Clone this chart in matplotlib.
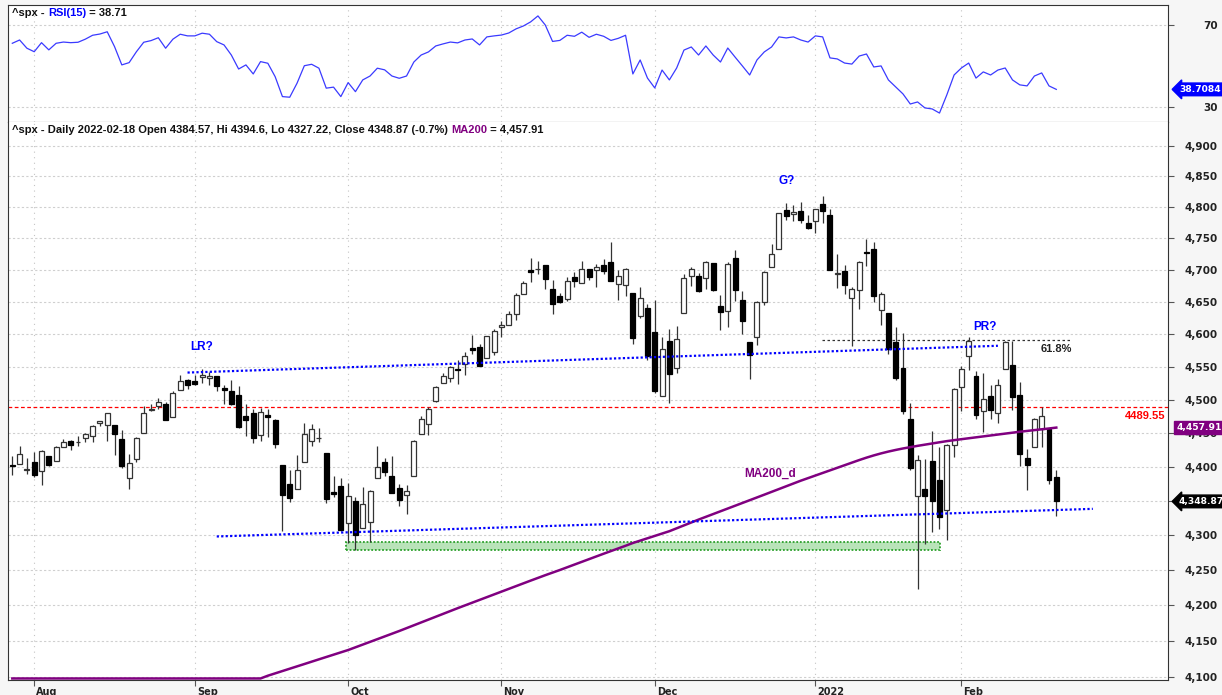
import matplotlib
matplotlib.use("Agg")
import matplotlib.pyplot as plt
import numpy as np
import pandas as pd
from matplotlib.patches import Rectangle
from matplotlib.ticker import FixedLocator, NullLocator, FuncFormatter
from matplotlib.transforms import ScaledTranslation, blended_transform_factory

# ---- data -----------------------------------------------------------------
dates = pd.bdate_range("2021-07-28", "2022-02-18")
holidays = pd.to_datetime(["2021-09-06", "2021-11-25", "2021-12-24", "2022-01-17"])
dates = dates[~dates.isin(holidays)]

opens = [4402.95, 4403.59, 4395.12, 4406.86, 4392.74, 4415.95, 4408.86, 4429.07, 4437.77, 4435.79,
         4442.18, 4446.08, 4464.84, 4461.65, 4462.12, 4440.94, 4382.44, 4410.56, 4450.29, 4484.40,
         4490.45, 4493.75, 4474.10, 4513.76, 4529.75, 4528.80, 4534.48, 4532.42, 4535.38, 4518.09,
         4513.02, 4506.92, 4474.81, 4479.33, 4447.49, 4477.09, 4469.74, 4402.95, 4374.45, 4367.43,
         4406.75, 4438.04, 4442.12, 4419.54, 4362.41, 4370.67, 4317.16, 4348.84, 4309.87, 4319.57,
         4383.73, 4406.51, 4385.44, 4368.31, 4358.01, 4386.75, 4447.69, 4463.72, 4497.34, 4524.42,
         4532.24, 4546.12, 4553.69, 4578.69, 4580.22, 4562.84, 4572.87, 4610.62, 4613.34, 4630.65,
         4662.93, 4699.26, 4701.48, 4707.25, 4670.26, 4659.39, 4655.24, 4689.30, 4679.42, 4701.50,
         4700.72, 4708.44, 4712.00, 4678.48, 4675.78, 4664.63, 4628.75, 4640.25, 4602.82, 4504.73,
         4589.49, 4548.37, 4631.97, 4690.86, 4691.00, 4687.64, 4710.30, 4642.99, 4636.46, 4719.13,
         4652.50, 4587.90, 4594.96, 4650.36, 4703.96, 4733.99, 4795.49, 4788.64, 4794.23, 4775.21,
         4778.14, 4804.51, 4787.99, 4693.39, 4697.66, 4655.34, 4669.14, 4728.59, 4733.56, 4637.99,
         4632.24, 4588.03, 4547.35, 4471.38, 4356.32, 4366.64, 4408.43, 4380.58, 4336.19, 4431.79,
         4519.57, 4566.39, 4535.41, 4482.79, 4505.75, 4480.02, 4547.00, 4553.24, 4506.27, 4412.61,
         4429.28, 4455.75, 4456.06, 4384.57]
highs = [4415.47, 4429.97, 4412.25, 4422.18, 4423.79, 4416.17, 4429.76, 4440.82, 4439.39, 4445.21,
         4449.44, 4461.77, 4468.37, 4480.26, 4462.12, 4454.32, 4418.61, 4444.35, 4489.88, 4492.81,
         4501.71, 4495.90, 4513.33, 4537.36, 4531.39, 4537.11, 4545.85, 4541.45, 4535.38, 4521.79,
         4529.90, 4520.47, 4492.99, 4485.68, 4486.87, 4485.87, 4471.52, 4402.95, 4394.87, 4416.75,
         4465.40, 4463.12, 4457.30, 4419.54, 4385.57, 4382.55, 4375.19, 4355.51, 4369.23, 4365.57,
         4429.97, 4412.02, 4415.88, 4374.89, 4372.87, 4439.73, 4475.82, 4488.75, 4520.40, 4540.87,
         4551.44, 4559.67, 4572.62, 4598.53, 4584.57, 4597.55, 4608.08, 4620.34, 4635.15, 4663.46,
         4683.00, 4718.50, 4714.92, 4708.53, 4684.85, 4664.55, 4688.47, 4697.42, 4714.95, 4701.50,
         4708.80, 4717.75, 4743.83, 4699.39, 4702.87, 4664.63, 4672.95, 4646.02, 4652.94, 4595.46,
         4608.03, 4612.60, 4694.04, 4705.06, 4695.26, 4713.57, 4710.30, 4660.47, 4712.60, 4731.99,
         4666.70, 4587.90, 4651.14, 4697.67, 4740.74, 4791.49, 4807.02, 4804.06, 4808.93, 4786.83,
         4796.64, 4818.62, 4797.70, 4725.01, 4707.95, 4673.02, 4714.13, 4748.83, 4744.13, 4665.13,
         4632.24, 4611.55, 4602.11, 4494.52, 4417.35, 4411.01, 4453.23, 4428.74, 4432.72, 4516.89,
         4550.49, 4595.31, 4542.88, 4539.66, 4521.86, 4531.32, 4590.03, 4588.92, 4526.33, 4426.22,
         4472.77, 4489.55, 4456.06, 4394.60]
lows = [4387.01, 4403.59, 4389.65, 4384.81, 4373.00, 4400.23, 4408.86, 4429.07, 4424.74, 4430.03,
        4436.42, 4435.96, 4460.82, 4437.66, 4417.83, 4397.59, 4367.73, 4406.80, 4450.29, 4482.28,
        4485.66, 4468.99, 4474.10, 4513.76, 4515.80, 4522.02, 4524.66, 4521.94, 4513.00, 4493.95,
        4492.07, 4457.66, 4445.70, 4435.46, 4438.37, 4443.80, 4427.76, 4305.91, 4347.96, 4367.43,
        4406.75, 4430.27, 4436.19, 4346.33, 4355.08, 4306.24, 4288.52, 4278.94, 4309.87, 4290.49,
        4383.73, 4386.22, 4360.59, 4342.09, 4329.92, 4386.75, 4447.69, 4447.47, 4496.41, 4524.40,
        4526.89, 4524.00, 4537.36, 4569.17, 4551.66, 4562.84, 4567.59, 4595.06, 4613.34, 4621.19,
        4662.59, 4681.32, 4694.39, 4670.87, 4630.86, 4648.31, 4650.77, 4672.86, 4679.42, 4684.41,
        4672.78, 4694.22, 4682.17, 4652.66, 4659.89, 4585.43, 4625.26, 4560.00, 4510.27, 4504.73,
        4495.12, 4540.51, 4631.97, 4674.52, 4665.98, 4670.24, 4667.60, 4606.52, 4611.22, 4651.89,
        4600.22, 4531.10, 4583.16, 4645.53, 4703.96, 4733.99, 4780.04, 4778.08, 4775.33, 4765.75,
        4758.17, 4774.27, 4699.44, 4671.26, 4662.74, 4582.24, 4638.27, 4706.71, 4650.29, 4614.75,
        4568.70, 4530.20, 4477.95, 4395.34, 4222.62, 4287.11, 4304.80, 4309.50, 4292.46, 4414.02,
        4483.53, 4544.32, 4470.39, 4451.50, 4471.47, 4465.40, 4547.00, 4484.31, 4401.41, 4364.84,
        4429.28, 4429.68, 4373.81, 4327.22]
closes = [4400.64, 4419.15, 4395.26, 4387.16, 4423.15, 4402.66, 4429.10, 4436.52, 4432.35, 4436.75,
          4447.70, 4460.83, 4468.00, 4479.71, 4448.08, 4400.27, 4405.80, 4441.67, 4479.53, 4486.23,
          4496.19, 4470.00, 4509.37, 4528.79, 4522.68, 4524.09, 4536.95, 4535.43, 4520.03, 4514.07,
          4493.28, 4458.58, 4468.73, 4443.05, 4480.70, 4473.75, 4432.99, 4357.73, 4354.19, 4395.64,
          4448.98, 4455.48, 4443.11, 4352.63, 4359.46, 4307.54, 4357.04, 4300.46, 4345.72, 4363.55,
          4399.76, 4391.34, 4361.19, 4350.65, 4363.80, 4438.26, 4471.37, 4486.46, 4519.63, 4536.19,
          4549.78, 4544.90, 4566.48, 4574.79, 4551.68, 4596.42, 4605.38, 4613.67, 4630.65, 4660.57,
          4680.06, 4697.53, 4701.70, 4685.25, 4646.71, 4649.27, 4682.85, 4682.80, 4700.90, 4688.67,
          4704.54, 4697.96, 4682.94, 4690.70, 4701.46, 4594.62, 4655.27, 4567.00, 4513.04, 4577.10,
          4538.43, 4591.67, 4686.75, 4701.21, 4667.45, 4712.02, 4668.97, 4634.09, 4709.85, 4668.67,
          4620.64, 4568.02, 4649.23, 4696.56, 4725.79, 4791.19, 4786.35, 4793.06, 4778.73, 4766.18,
          4796.56, 4793.54, 4700.58, 4696.05, 4677.03, 4670.29, 4713.07, 4726.35, 4659.03, 4662.85,
          4577.11, 4532.76, 4482.73, 4397.94, 4410.13, 4356.45, 4349.93, 4326.51, 4431.85, 4515.55,
          4546.54, 4589.38, 4477.44, 4500.53, 4483.87, 4521.54, 4587.18, 4504.08, 4418.64, 4401.67,
          4471.07, 4475.01, 4380.26, 4348.87]

rsi15 = [61.1, 62.7, 58.7, 57.0, 61.4, 57.9, 61.1, 61.7, 61.4, 61.6,
         63.1, 65.0, 65.6, 66.7, 59.5, 50.6, 51.7, 57.0, 61.6, 62.4,
         63.8, 58.7, 63.1, 65.5, 64.7, 64.7, 66.0, 65.5, 61.9, 60.3,
         55.4, 48.6, 50.6, 46.2, 52.2, 51.4, 44.9, 35.2, 34.9, 41.7,
         50.2, 50.9, 49.0, 39.3, 39.8, 35.2, 42.0, 37.6, 43.3, 45.2,
         49.0, 48.2, 45.2, 44.1, 45.2, 52.0, 55.4, 56.9, 59.8, 60.8,
         61.7, 61.3, 62.7, 63.2, 60.3, 64.2, 64.7, 65.1, 66.1, 68.1,
         69.5, 71.5, 74.4, 70.0, 62.0, 62.5, 65.0, 64.5, 66.5, 64.0,
         65.5, 64.5, 62.5, 63.5, 65.0, 46.2, 53.0, 44.2, 39.4, 48.1,
         43.3, 49.1, 57.8, 59.3, 55.4, 59.8, 55.4, 52.0, 58.8, 54.4,
         50.1, 45.7, 53.0, 56.9, 59.3, 64.2, 63.7, 64.2, 62.7, 61.7,
         64.7, 64.2, 54.0, 53.5, 51.5, 51.0, 54.9, 55.9, 49.6, 50.1,
         43.3, 39.9, 36.5, 31.6, 32.6, 29.7, 29.2, 27.2, 36.0, 45.7,
         49.1, 51.5, 44.2, 47.2, 45.7, 48.1, 49.1, 43.3, 40.9, 40.4,
         45.2, 46.7, 40.4, 38.71]

ma200 = [4098.0] * 35 + [
    4101.8, 4105.0, 4108.3, 4111.5, 4114.7, 4117.9, 4121.2, 4124.4, 4127.6, 4130.9,
    4134.1, 4137.3, 4141.1, 4144.9, 4148.6, 4152.4, 4156.2, 4160.0, 4163.8, 4167.8,
    4171.8, 4175.8, 4179.8, 4183.8, 4187.8, 4191.9, 4195.8, 4199.7, 4203.6, 4207.5,
    4211.4, 4215.3, 4219.2, 4223.1, 4227.0, 4230.9, 4234.8, 4238.7, 4242.5, 4246.2,
    4249.9, 4253.8, 4257.7, 4261.6, 4265.5, 4269.4, 4273.2, 4277.0, 4280.8, 4284.6,
    4288.6, 4292.0, 4295.4, 4298.8, 4302.2, 4305.6, 4309.8, 4314.0, 4318.2, 4322.4,
    4326.4, 4330.4, 4334.4, 4338.4, 4342.4, 4346.5, 4350.5, 4354.6, 4358.7, 4362.8,
    4366.9, 4371.0, 4375.1, 4379.2, 4383.0, 4386.8, 4390.6, 4394.4, 4398.2, 4402.0,
    4405.8, 4409.6, 4413.2, 4416.5, 4419.5, 4422.2, 4424.6, 4426.8, 4428.8, 4430.7,
    4432.5, 4434.3, 4436.0, 4437.7, 4439.2, 4440.6, 4442.0, 4443.4, 4444.8, 4446.2,
    4447.6, 4449.0, 4450.4, 4451.7, 4452.9, 4454.1, 4455.3, 4456.6, 4457.91]

# annotations (bar number, price)
lr_upper = [(24, 4541), (135, 4582)]
lr_lower = [(28, 4298), (148, 4338)]
support_zone = (45.7, 127.1, 4278.5, 4290.4)   # x0, x1, lo, hi
fib_618 = (110.9, 145.1, 4591)
resistance = 4489.55
notes = [("LR?", 26, 4580, "blue"), ("G?", 106, 4842, "blue"),
         ("PR?", 133.2, 4611, "blue"), ("MA200_d", 103.8, 4390, "purple")]

# ---- figure -----------------------------------------------------------------
W, H = 1222, 695
fig = plt.figure(figsize=(W / 100, H / 100), dpi=100, facecolor="#f6f6f6")


def px_box(x0, y0, x1, y1):
    return [x0 / W, 1 - y1 / H, (x1 - x0) / W, (y1 - y0) / H]


ax_rsi = fig.add_axes(px_box(8, 5, 1168, 122))
ax = fig.add_axes(px_box(8, 122, 1168, 680), sharex=ax_rsi)

n = len(closes)
x = np.arange(n)
o, h, l, c = map(np.array, (opens, highs, lows, closes))

# month ticks: first session of each month
month_pos = [i for i in range(1, n) if dates[i].month != dates[i - 1].month]
month_lab = [str(dates[i].year) if dates[i].month == 1 else dates[i].strftime("%b")
             for i in month_pos]

edge = "#333333"
sans = ["Liberation Sans", "DejaVu Sans"]
font = dict(fontweight="bold", fontsize=8, family=sans)
tagfont = dict(fontweight="bold", fontsize=6.6, family="DejaVu Sans")

# ---- price panel ---------------------------------------------------------------
ax.set_facecolor("white")
ax.set_yscale("log")
ax.set_ylim(4095.9, 4939.3)
ax.set_xlim(-0.59, 158.3)

ax.vlines(x, l, h, color=edge, lw=0.9, zorder=3)
up = c >= o
body_lo = np.minimum(o, c)
body_h = np.maximum(np.abs(c - o), 0.6)
ax.bar(x[up], body_h[up], bottom=body_lo[up], width=0.68, color="white",
       edgecolor=edge, lw=0.9, zorder=4)
ax.bar(x[~up], body_h[~up], bottom=body_lo[~up], width=0.68, color="black",
       edgecolor="black", lw=0.9, zorder=4)

ax.plot(x, ma200, color="#800080", lw=1.8, zorder=5)

for (x0, p0), (x1, p1) in [lr_upper, lr_lower]:
    ax.plot([x0, x1], [p0, p1], color="#0000ff", lw=1.6, ls=(0, (1, 1)), zorder=5)

zx0, zx1, zlo, zhi = support_zone
ax.add_patch(Rectangle((zx0, zlo), zx1 - zx0, zhi - zlo, facecolor="#b9e3b9",
                       edgecolor="#2ca02c", lw=1.3, ls=(0, (1, 1)), zorder=2))

ax.axhline(resistance, color="red", lw=0.9, ls=(0, (3, 2)), zorder=2)
ax.annotate(f"{resistance:.2f}", xy=(1, resistance), xycoords=("axes fraction", "data"),
            xytext=(-2, -3), textcoords="offset points", ha="right", va="top",
            color="red", **font)

fx0, fx1, fp = fib_618
ax.hlines(fp, fx0, fx1, color="#333333", lw=0.9, ls=(0, (2, 2)), zorder=2)
ax.annotate("61.8%", xy=(fx1, fp), xytext=(0, -3), textcoords="offset points",
            ha="right", va="top", color="#222222", **font)

for txt, nx, ny, col in notes:
    ax.text(nx, ny, txt, color=col, ha="center", va="center", fontweight="bold",
            fontsize=8.5, family=sans)

# axis styling
ax.yaxis.tick_right()
ticks = list(range(4100, 4901, 50))
ax.yaxis.set_major_locator(FixedLocator(ticks))
ax.yaxis.set_minor_locator(NullLocator())
ax.yaxis.set_major_formatter(FuncFormatter(lambda v, _: f"{v:,.0f}"))
ax.tick_params(axis="y", length=4, color="#555555", pad=31.7, labelsize=7.5,
               labelcolor="#222222")
for lbl in ax.get_yticklabels():
    lbl.set_horizontalalignment("right")
    lbl.set_fontweight("bold")

ax.set_xticks(month_pos)
ax.set_xticklabels(month_lab)
ax.tick_params(axis="x", length=4, color="#555555", pad=1, labelsize=7,
               labelcolor="#222222")
shift = ScaledTranslation(1.5 / 72, 0, fig.dpi_scale_trans)
for lbl in ax.get_xticklabels():
    lbl.set_horizontalalignment("left")
    lbl.set_fontweight("bold")
    lbl.set_transform(lbl.get_transform() + shift)

ax.grid(axis="y", color="#cfcfcf", lw=0.8, ls=(0, (2, 2)))
ax.grid(axis="x", color="#c4c4c4", lw=0.8, ls=(0, (1, 4)))
ax.set_axisbelow(True)
for s in ax.spines.values():
    s.set_color(edge)
ax.spines["top"].set_visible(False)

# value tags on right axis
ytr = blended_transform_factory(ax.transAxes, ax.transData)
ax.text(1.0075, ma200[-1], f"{ma200[-1]:,.2f}", transform=ytr, color="white",
        ha="left", va="center", clip_on=False, zorder=10,
        bbox=dict(boxstyle="square,pad=0.25", fc="#800080", ec="#800080"), **tagfont)
ax.text(1.0095, closes[-1], f"{closes[-1]:,.2f}", transform=ytr, color="white",
        ha="left", va="center", clip_on=False, zorder=10,
        bbox=dict(boxstyle="larrow,pad=0.2", fc="black", ec="black"), **tagfont)

# header
hdr = ax.text(0.0035, 0.9857,
              f"^spx - Daily {dates[-1]:%Y-%m-%d} Open {opens[-1]}, Hi {highs[-1]}, "
              f"Lo {lows[-1]}, Close {closes[-1]} "
              f"({(closes[-1] / closes[-2] - 1) * 100:.1f}%) ",
              transform=ax.transAxes, ha="left", va="center", color="#111111", **font)
ma_t = ax.annotate("MA200", xycoords=hdr, xy=(1, 0), va="bottom", color="#800080", **font)
ax.annotate(f" = {ma200[-1]:,.2f}", xycoords=ma_t, xy=(1, 0), va="bottom",
            color="#111111", **font)

# ---- RSI panel ------------------------------------------------------------------
ax_rsi.set_facecolor("white")
ax_rsi.plot(x, rsi15, color="#3a3aff", lw=0.9)
ax_rsi.set_ylim(22.86, 79.7)
ax_rsi.yaxis.tick_right()
ax_rsi.set_yticks([30, 70])
ax_rsi.tick_params(axis="y", length=4, color="#555555", pad=31.7, labelsize=7.5,
                   labelcolor="#222222")
for lbl in ax_rsi.get_yticklabels():
    lbl.set_horizontalalignment("right")
    lbl.set_fontweight("bold")
ax_rsi.tick_params(axis="x", length=0, labelbottom=False)
ax_rsi.grid(axis="y", color="#cfcfcf", lw=0.8, ls=(0, (2, 2)))
ax_rsi.grid(axis="x", color="#c4c4c4", lw=0.8, ls=(0, (1, 4)))
for s in ax_rsi.spines.values():
    s.set_color(edge)

rtr = blended_transform_factory(ax_rsi.transAxes, ax_rsi.transData)
ax_rsi.text(1.0095, rsi15[-1], "38.7084", transform=rtr, color="white",
            ha="left", va="center", clip_on=False, zorder=10,
            bbox=dict(boxstyle="larrow,pad=0.2", fc="#0000ff", ec="#0000ff"), **tagfont)

r1 = ax_rsi.text(0.0035, 0.93, "^spx - ", transform=ax_rsi.transAxes, ha="left",
                 va="center", color="#111111", **font)
r2 = ax_rsi.annotate("RSI(15)", xycoords=r1, xy=(1, 0), va="bottom", color="#0000ff", **font)
ax_rsi.annotate(f" = {rsi15[-1]:.2f}", xycoords=r2, xy=(1, 0), va="bottom",
                color="#111111", **font)

fig.savefig("out.png", dpi=100, facecolor=fig.get_facecolor())
